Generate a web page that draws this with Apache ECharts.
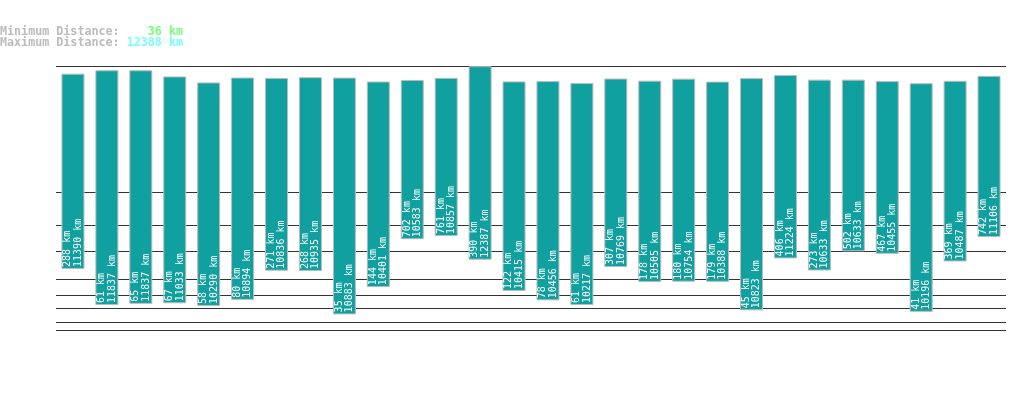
<!DOCTYPE html>
<html>
<head>
<meta charset="utf-8">
<script src="https://cdn.jsdelivr.net/npm/echarts@6/dist/echarts.min.js"></script>
<style>html,body{margin:0;padding:0;background:#fff;}#c{width:1019px;height:402px;}</style>
</head>
<body>
<div id="c"></div>
<script>
var categories = ['1','2','3','4','5','6','7','8','9','10','11','12','13','14','15','16','17','18','19','20','21','22','23','24','25','26','27','28'];
var minKm = [288, 61, 65, 67, 58, 80, 271, 268, 35, 144, 702, 761, 390, 122, 78, 61, 307, 178, 180, 179, 45, 406, 273, 502, 467, 41, 369, 742];
var maxKm = [11390, 11837, 11837, 11033, 10290, 10894, 10836, 10935, 10883, 10401, 10583, 10857, 12387, 10415, 10456, 10217, 10769, 10505, 10754, 10388, 10823, 11224, 10633, 10633, 10455, 10196, 10487, 11106];
var gridValues = [10, 20, 50, 100, 200, 500, 1000, 2000, 12388];
var summaryMin = '36 km';
var summaryMax = '12388 km';

var EXP = 0.3;
function pw(v) { return Math.pow(v, EXP); }
var baseData = minKm.map(pw);
var spanData = maxKm.map(function (v, i) { return pw(v) - pw(minKm[i]); });

var chart = echarts.init(document.getElementById('c'));
chart.setOption({
  animation: false,
  backgroundColor: '#fff',
  title: {
    left: 0, top: 26.5, padding: 0,
    text: '{l|Minimum Distance:}{l| }{g|   ' + summaryMin + '}\n{l|Maximum Distance:}{l| }{c|' + summaryMax + '}',
    textStyle: {
      rich: {
        l: { color: '#bbbbbb', fontFamily: 'DejaVu Sans Mono', fontWeight: 'bold', fontSize: 11.7, lineHeight: 11 },
        g: { color: '#77ff77', fontFamily: 'DejaVu Sans Mono', fontWeight: 'bold', fontSize: 11.7, lineHeight: 11 },
        c: { color: '#77ffff', fontFamily: 'DejaVu Sans Mono', fontWeight: 'bold', fontSize: 11.7, lineHeight: 11 }
      }
    }
  },
  grid: { left: 56, right: 13, top: 66.2, bottom: 36.1 },
  xAxis: {
    type: 'category', data: categories, boundaryGap: true,
    axisLine: { show: false }, axisTick: { show: false }, axisLabel: { show: false }, splitLine: { show: false }
  },
  yAxis: {
    type: 'value', min: 0, max: pw(12388), show: false, splitLine: { show: false }
  },
  series: [
    {
      type: 'bar', stack: 'r', z: 1, barWidth: 23, data: baseData,
      itemStyle: { color: 'rgba(0,0,0,0)' }, silent: true,
      markLine: {
        z: 0, silent: true, symbol: 'none', animation: false,
        label: { show: false },
        lineStyle: { color: '#333333', width: 1, type: 'solid' },
        data: gridValues.map(function (v) { return { yAxis: pw(v) }; })
      }
    },
    {
      type: 'bar', stack: 'r', z: 3, barWidth: 23, data: spanData,
      itemStyle: { color: '#11a0a0', borderColor: '#bbbbbb', borderWidth: 1 },
      label: {
        show: true, position: 'insideBottom', rotate: 90, distance: 2,
        align: 'left', verticalAlign: 'middle',
        color: '#ffffff', fontFamily: 'DejaVu Sans Mono', fontSize: 10, lineHeight: 10.5,
        formatter: function (p) { return minKm[p.dataIndex] + ' km\n' + maxKm[p.dataIndex] + ' km'; }
      }
    }
  ]
});
</script>
</body>
</html>
